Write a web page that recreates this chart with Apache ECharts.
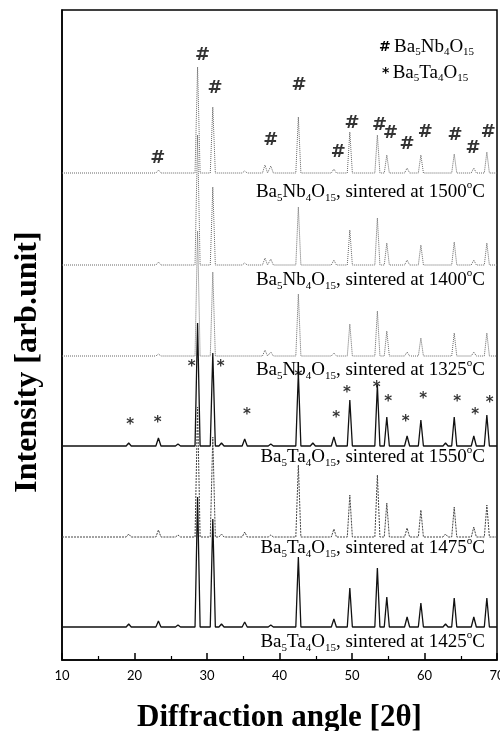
<!DOCTYPE html>
<html>
<head>
<meta charset="utf-8">
<script src="https://cdn.jsdelivr.net/npm/echarts@6/dist/echarts.min.js"></script>
<style>
  html, body { margin: 0; padding: 0; background: #fff; }
  .demo { width: 500px; height: 731px; }
</style>
</head>
<body>
<div class="demo"></div>
<script>
// peak positions (2theta) shared by all patterns
const peakPos = [19.2, 23.3, 26.0, 28.7, 30.8, 32.0, 35.2, 38.0, 38.8, 42.6, 44.6, 47.5, 49.7, 53.5, 54.8, 57.6, 59.5, 62.9, 64.1, 66.8, 68.6]

// pattern names, vertical offsets and peak heights (same order as peakPos)
const names = ['1500', '1400', '1325', '1550', '1475', '1425']
const offsets = [487, 395, 304, 214, 123, 33]
const h1500 = [0, 3, 0, 106, 66, 0, 2, 8, 7, 56, 0, 4, 41, 38, 18, 5, 18, 0, 19, 5, 21]
const h1400 = [0, 3, 0, 130, 78, 0, 2, 7, 6, 58, 0, 5, 35, 47, 22, 5, 20, 0, 23, 5, 22]
const h1325 = [0, 2, 0, 125, 84, 0, 0, 6, 4, 62, 0, 3, 32, 45, 25, 4, 18, 0, 23, 4, 23]
const h1550 = [3, 8, 2, 123, 93, 3, 7, 0, 2, 73, 3, 9, 46, 61, 29, 10, 26, 3, 29, 10, 31]
const h1475 = [3, 7, 2, 130, 100, 3, 5, 0, 2, 72, 0, 8, 42, 62, 34, 9, 27, 3, 30, 10, 32]
const h1425 = [3, 6, 2, 130, 108, 3, 5, 0, 2, 70, 0, 8, 39, 59, 30, 10, 24, 3, 29, 10, 29]
const heights = [h1500, h1400, h1325, h1550, h1475, h1425]

// '#' marks (Ba5Nb4O15) and '*' marks (Ba5Ta4O15)
const nbMarkX = [23.2, 29.4, 31.1, 38.8, 42.7, 48.1, 50.0, 53.8, 55.3, 57.6, 60.1, 64.2, 66.7, 68.8]
const nbMarkY = [502, 605, 572, 520, 575, 508, 537, 535, 527, 516, 528, 525, 512, 528]
const taMarkX = [19.4, 23.2, 27.9, 31.9, 35.5, 42.6, 47.8, 49.3, 53.4, 55.0, 57.4, 59.8, 64.5, 67.0, 69.0]
const taMarkY = [235, 237, 293, 293, 245, 283, 242, 267, 272, 258, 238, 261, 258, 245, 257]

// x ticks
const xMin = 10, xMax = 70, xStep = 10

;(function () {
  const chartinstance = echarts.init(document.querySelector('.demo'))
  const serif = 'Liberation Serif'

  const lineStyles = [
    { color: '#666', width: 1, type: [1, 1] },
    { color: '#666', width: 1, type: [1, 1] },
    { color: '#666', width: 1, type: [1, 1] },
    { color: '#111', width: 1.3, type: 'solid' },
    { color: '#444', width: 1, type: [2, 1] },
    { color: '#111', width: 1.3, type: 'solid' }
  ]

  const foot = 0.35
  function buildLine(off, hs) {
    let pts = [[xMin, off]]
    for (let i = 0; i < peakPos.length; i++) {
      if (hs[i] <= 0) continue
      pts.push([peakPos[i] - foot, off])
      pts.push([peakPos[i], off + hs[i]])
      pts.push([peakPos[i] + foot, off])
    }
    pts.push([xMax, off])
    return pts
  }

  let series = []
  for (let k = 0; k < names.length; k++) {
    series.push({
      name: names[k],
      type: 'line',
      symbol: 'none',
      silent: true,
      data: buildLine(offsets[k], heights[k]),
      lineStyle: lineStyles[k]
    })
  }
  series.push({
    name: 'nbMarks',
    type: 'scatter',
    symbolSize: 0,
    silent: true,
    data: nbMarkX.map((x, i) => [x, nbMarkY[i]]),
    label: { show: true, position: 'inside', formatter: '#', fontFamily: 'DejaVu Sans', fontWeight: 'bold', fontSize: 18, color: '#000' }
  })
  series.push({
    name: 'taMarks',
    type: 'scatter',
    symbolSize: 0,
    silent: true,
    data: taMarkX.map((x, i) => [x, taMarkY[i]]),
    label: { show: true, position: 'inside', formatter: '*', fontFamily: 'DejaVu Sans', fontWeight: 'bold', fontSize: 15, color: '#000', padding: [6, 0, 0, 0] }
  })

  const rich = {
    m: { fontFamily: serif, fontSize: 19, lineHeight: 24, verticalAlign: 'middle', fill: '#000', color: '#000' },
    s: { fontFamily: serif, fontSize: 11, lineHeight: 10, verticalAlign: 'bottom', fill: '#000', color: '#000' },
    u: { fontFamily: serif, fontSize: 11, lineHeight: 12, verticalAlign: 'top', fill: '#000', color: '#000' }
  }
  const sampleText = [
    ['Nb', '1500', 192], ['Nb', '1400', 280], ['Nb', '1325', 370],
    ['Ta', '1550', 457], ['Ta', '1475', 548], ['Ta', '1425', 642]
  ]
  let graphics = sampleText.map(t => ({
    type: 'text',
    x: 485,
    y: t[2],
    style: {
      text: '{m|Ba}{s|5}{m|' + t[0] + '}{s|4}{m|O}{s|15}{m|, sintered at ' + t[1] + '}{u|o}{m|C}',
      rich: rich,
      align: 'right',
      verticalAlign: 'middle'
    }
  }))
  const legRich = {
    m: { fontFamily: serif, fontSize: 19, lineHeight: 22, verticalAlign: 'middle', fill: '#000', color: '#000' },
    s: { fontFamily: serif, fontSize: 11, lineHeight: 8, verticalAlign: 'bottom', fill: '#000', color: '#000' },
    b: { fontFamily: 'DejaVu Sans', fontSize: 14, fontWeight: 'bold', lineHeight: 22, verticalAlign: 'middle', fill: '#000', color: '#000' }
  }
  graphics.push({
    type: 'text', x: 379, y: 47,
    style: { text: '{b|#} {m|Ba}{s|5}{m|Nb}{s|4}{m|O}{s|15}', rich: legRich, align: 'left', verticalAlign: 'middle' }
  })
  graphics.push({
    type: 'text', x: 382, y: 73,
    style: { text: '{b|*} {m|Ba}{s|5}{m|Ta}{s|4}{m|O}{s|15}', rich: legRich, align: 'left', verticalAlign: 'middle' }
  })
  graphics.push({
    type: 'text', x: 28, y: 362, rotation: Math.PI / 2,
    style: {
      text: 'Intensity [arb.unit]',
      font: 'bold 32px "Liberation Serif"',
      fill: '#000',
      align: 'center',
      verticalAlign: 'middle'
    }
  })

  const option = {
    animation: false,
    grid: {
      left: 62,
      right: 3,
      top: 10,
      bottom: 71,
      outerBoundsMode: 'none',
      show: true,
      borderColor: '#000',
      borderWidth: 1.5
    },
    xAxis: {
      type: 'value',
      min: xMin,
      max: xMax,
      interval: xStep,
      name: 'Diffraction angle [2θ]',
      nameLocation: 'middle',
      nameGap: 42,
      nameTextStyle: { fontFamily: serif, fontWeight: 'bold', fontSize: 31, color: '#000' },
      axisLine: { lineStyle: { color: '#000', width: 1.5 } },
      axisTick: { inside: true, length: 7, lineStyle: { color: '#000', width: 1.5 } },
      minorTick: { show: true, splitNumber: 2, length: 4, lineStyle: { color: '#000', width: 1.2 } },
      axisLabel: { fontFamily: 'Lato', fontSize: 13, color: '#000', margin: 9 },
      splitLine: { show: false }
    },
    yAxis: {
      type: 'value',
      min: 0,
      max: 650,
      axisLine: { show: true, lineStyle: { color: '#000', width: 1.5 } },
      axisTick: { show: false },
      axisLabel: { show: false },
      splitLine: { show: false }
    },
    graphic: graphics,
    series: series
  }
  option && chartinstance.setOption(option)
  window.addEventListener('resize', () => {
    chartinstance.resize()
  })
})()
</script>
</body>
</html>
